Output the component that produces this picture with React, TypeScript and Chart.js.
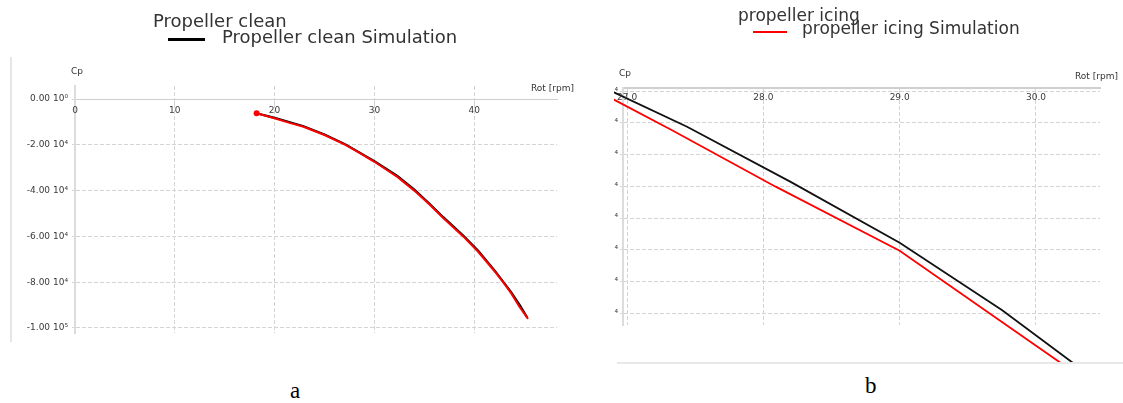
import React, { useEffect, useRef } from "react";
import { Chart, registerables } from "chart.js";
Chart.register(...registerables);

// ---------- Panel a : propeller clean ----------
const cleanMeasRpm = [18.2, 19.9, 21.5, 22.9, 25.0, 27.1, 28.5, 30.0, 32.3, 34.0, 35.5, 36.9, 38.9, 40.4, 42.0, 42.9, 43.7, 44.5, 45.4];
const cleanMeasCp = [-6200, -8300, -10400, -12100, -15700, -20000, -23500, -27400, -34000, -40000, -46000, -52000, -60000, -66700, -75000, -80000, -84800, -90500, -96000];
const cleanSimRpm = [18.3, 20.0, 22.9, 25.0, 27.1, 30.0, 32.3, 34.0, 35.5, 36.9, 38.9, 40.4, 42.0, 43.7, 44.6, 45.3];
const cleanSimCp = [-6300, -8200, -11900, -15500, -19800, -27100, -33600, -39600, -45600, -51600, -59600, -66300, -74600, -84300, -90200, -95300];
const xTicksA = [0, 10, 20, 30, 40];
const xTickLabelsA = ["0", "10", "20", "30", "40"];
const yTicksA = [0, -20000, -40000, -60000, -80000, -100000];
const yTickLabelsA = ["0.00 10⁰", "-2.00 10⁴", "-4.00 10⁴", "-6.00 10⁴", "-8.00 10⁴", "-1.00 10⁵"];
const xRangeA = [0, 48.3];
const yRangeA = [-102200, 5700];

// ---------- Panel b : propeller icing ----------
const icingMeasRpm = [26.9, 27.44, 28.2, 29.0, 29.75, 30.27, 30.45];
const icingMeasCp = [-20030, -21120, -22860, -24780, -26900, -28560, -29150];
const icingSimRpm = [26.9, 27.33, 28.09, 29.0, 30.18, 30.35];
const icingSimCp = [-20260, -21230, -23010, -25030, -28560, -29100];
const xTicksB = [27, 28, 29, 30];
const xTickLabelsB = ["27.0", "28.0", "29.0", "30.0"];
const yTicksB = [-20000, -21000, -22000, -23000, -24000, -25000, -26000, -27000];
const yTickLabelsB = ["-2.00 10⁴", "-2.10 10⁴", "-2.20 10⁴", "-2.30 10⁴", "-2.40 10⁴", "-2.50 10⁴", "-2.60 10⁴", "-2.70 10⁴"];
const xRangeB = [26.97, 30.47];
const yRangeB = [-27370, -19900];

const TICK_FONT = { family: "DejaVu Sans", size: 9 };
const TICK_COLOR = "#3a3a3a";
const GRID_COLOR = "#d4d4d4";

function pts(xs: number[], ys: number[]) {
  return xs.map((x, i) => ({ x, y: ys[i] }));
}

function makeConfig(p: any): any {
  return {
    type: "line",
    data: { datasets: p.datasets },
    options: {
      responsive: false,
      animation: false,
      devicePixelRatio: 1,
      events: [],
      layout: { padding: p.padding },
      plugins: { legend: { display: false }, tooltip: { enabled: false } },
      scales: {
        x: {
          type: "linear",
          position: { y: p.xAxisAt },
          min: p.xRange[0],
          max: p.xRange[1],
          afterBuildTicks: (s: any) => { s.ticks = p.xTicks.map((v: number) => ({ value: v })); },
          ticks: {
            autoSkip: false,
            maxRotation: 0,
            padding: 0,
            z: 1,
            font: TICK_FONT,
            color: TICK_COLOR,
            callback: (v: number) => p.xLabels[p.xTicks.indexOf(v)],
          },
          grid: { color: GRID_COLOR, lineWidth: 1, tickLength: p.xTickLen, drawTicks: true },
          border: { display: true, color: "#cfcfcf", width: p.xBorderW, dash: [4, 2] },
        },
        y: {
          type: "linear",
          min: p.yRange[0],
          max: p.yRange[1],
          afterFit: (s: any) => { s.width = p.yWidth; },
          afterBuildTicks: (s: any) => { s.ticks = p.yTicks.map((v: number) => ({ value: v })); },
          ticks: {
            autoSkip: false,
            padding: p.yPad,
            font: TICK_FONT,
            color: TICK_COLOR,
            callback: (v: number) => p.yLabels[p.yTicks.indexOf(v)],
          },
          grid: { color: GRID_COLOR, lineWidth: 1, tickLength: 3, drawTicks: true },
          border: { display: true, color: "#dcdcdc", width: 2, dash: [4, 2] },
        },
      },
    },
  };
}

function ChartCanvas({ width, height, style, config }: any) {
  const ref = useRef<HTMLCanvasElement>(null);
  useEffect(() => {
    const c = new Chart(ref.current as HTMLCanvasElement, config());
    return () => c.destroy();
  }, []);
  return <canvas ref={ref} width={width} height={height} style={{ position: "absolute", width, height, ...style }} />;
}

function Txt({ x, baseline, size, family, color, children }: any) {
  const k = family && family.indexOf("Serif") >= 0 ? 0.8375 : 0.846;
  return (
    <div
      style={{
        position: "absolute",
        left: x,
        top: baseline - k * size,
        fontSize: size,
        lineHeight: `${size}px`,
        fontFamily: family || "DejaVu Sans",
        color: color || "#333",
        whiteSpace: "nowrap",
      }}
    >
      {children}
    </div>
  );
}

const configA = () =>
  makeConfig({
    datasets: [
      {
        label: "Propeller clean",
        data: pts(cleanMeasRpm, cleanMeasCp),
        borderColor: "#ff0000",
        backgroundColor: "#ff0000",
        borderWidth: 2,
        tension: 0,
        order: 0,
        pointRadius: (c: any) => (c.dataIndex === 0 ? 3 : 0),
        pointBorderWidth: 0,
      },
      {
        label: "Propeller clean Simulation",
        data: pts(cleanSimRpm, cleanSimCp),
        borderColor: "#000000",
        borderWidth: 2.2,
        tension: 0,
        order: 1,
        pointRadius: 0,
      },
    ],
    padding: { left: 5, top: 86, right: 43, bottom: 12 },
    xAxisAt: 0,
    xRange: xRangeA,
    yRange: yRangeA,
    xTicks: xTicksA,
    xLabels: xTickLabelsA,
    yTicks: yTicksA,
    yLabels: yTickLabelsA,
    xTickLen: 6,
    xBorderW: 1,
    yWidth: 70,
    yPad: 4,
  });

const configB = () =>
  makeConfig({
    datasets: [
      {
        label: "propeller icing",
        data: pts(icingMeasRpm, icingMeasCp),
        borderColor: "#111111",
        borderWidth: 1.8,
        tension: 0,
        pointRadius: 0,
        clip: false,
      },
      {
        label: "propeller icing Simulation",
        data: pts(icingSimRpm, icingSimCp),
        borderColor: "#ff0000",
        borderWidth: 1.8,
        tension: 0,
        pointRadius: 0,
        clip: false,
      },
    ],
    padding: { left: 15, top: 88, right: 23, bottom: 39 },
    xAxisAt: yRangeB[1],
    xRange: xRangeB,
    yRange: yRangeB,
    xTicks: xTicksB,
    xLabels: xTickLabelsB,
    yTicks: yTicksB,
    yLabels: yTickLabelsB,
    xTickLen: 4,
    xBorderW: 2,
    yWidth: 80,
    yPad: 2,
  });

export default function App() {
  return (
    <div style={{ position: "absolute", left: 0, top: 0, width: 1123, height: 403, background: "#fff", overflow: "hidden" }}>
      {/* panel a */}
      <div style={{ position: "absolute", left: 10, top: 57, width: 2, height: 285, background: "#e6e6e6" }} />
      <ChartCanvas width={600} height={345} style={{ left: 0, top: 0 }} config={configA} />
      <Txt x={153} baseline={27} size={18}>Propeller clean</Txt>
      <Txt x={222} baseline={43.5} size={18}>Propeller clean Simulation</Txt>
      <div style={{ position: "absolute", left: 168, top: 38, width: 37, height: 3, background: "#000" }} />
      <Txt x={71} baseline={74.5} size={9}>Cp</Txt>
      <Txt x={531} baseline={91.5} size={9}>Rot [rpm]</Txt>
      <Txt x={290} baseline={398} size={23} family="Liberation Serif" color="#000">a</Txt>

      {/* panel b */}
      <div style={{ position: "absolute", left: 614, top: 0, width: 509, height: 364, overflow: "hidden" }}>
        <ChartCanvas width={595} height={364} style={{ left: -86, top: 0 }} config={configB} />
      </div>
      <div style={{ position: "absolute", left: 617, top: 362, width: 506, height: 2, background: "#e8e8e8" }} />
      <Txt x={738} baseline={21} size={17}>propeller icing</Txt>
      <Txt x={802} baseline={34.5} size={17}>propeller icing Simulation</Txt>
      <div style={{ position: "absolute", left: 753, top: 31, width: 34, height: 2, background: "#ff0000" }} />
      <Txt x={619} baseline={76.5} size={9}>Cp</Txt>
      <Txt x={1075} baseline={79.5} size={9}>Rot [rpm]</Txt>
      <Txt x={865} baseline={393} size={23} family="Liberation Serif" color="#000">b</Txt>
    </div>
  );
}
